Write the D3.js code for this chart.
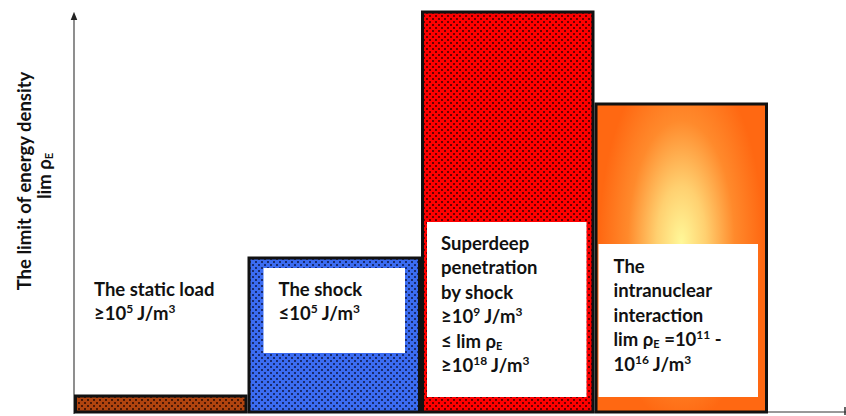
<!DOCTYPE html>
<html>
<head>
<meta charset="utf-8">
<script src="https://cdn.jsdelivr.net/npm/d3@7"></script>
<style>
  body { margin: 0; background: #fff; }
  text { font-family: Lato, "Open Sans", sans-serif; font-weight: bold; fill: #111; }
</style>
</head>
<body>
<svg></svg>
<script>
// data
var categories = ["static", "shock", "superdeep", "intranuclear"];
var values = [4, 38.5, 100, 77];   // relative height of the energy density limit
var fills = ["url(#dotBrown)", "url(#dotBlue)", "url(#dotRed)", "url(#glow)"];
var labelLines = [
  [["The static load"], ["≥10", "5", " J/m", "3"]],
  [["The shock"], ["≤10", "5", " J/m", "3"]],
  [["Superdeep"], ["penetration"], ["by shock"], ["≥10", "9", " J/m", "3"], ["≤ lim ρ", "_E"], ["≥10", "18", " J/m", "3"]],
  [["The"], ["intranuclear"], ["interaction"], ["lim ρ", "_E", " =10", "11", "  -"], ["10", "16", " J/m", "3"]]
];

var svg = d3.select("svg")
            .attr("width", 846)
            .attr("height", 416);

var margins = {left: 74, right: 78, top: 12, bottom: 4};
var width = 846 - margins.left - margins.right;
var height = 416 - margins.top - margins.bottom;

var xScale = d3.scaleBand()
               .domain(categories)
               .range([margins.left, margins.left + width])
               .padding(0);

var yScale = d3.scaleLinear()
               .domain([0, 100])
               .range([margins.top + height, margins.top]);

var defs = svg.append("defs");

var makeDots = function(id, bg, dot)
{
  var p = defs.append("pattern")
              .attr("id", id)
              .attr("width", 6)
              .attr("height", 6)
              .attr("patternUnits", "userSpaceOnUse");
  p.append("rect").attr("width", 6).attr("height", 6).attr("fill", bg);
  p.append("rect").attr("x", 0).attr("y", 0).attr("width", 2).attr("height", 2).attr("fill", dot);
  p.append("rect").attr("x", 3).attr("y", 3).attr("width", 2).attr("height", 2).attr("fill", dot);
}
makeDots("dotBrown", "#b0440f", "#4a1805");
makeDots("dotBlue", "#3b6cf2", "#1a2c6e");
makeDots("dotRed", "#ff0000", "#6a0000");

var glow = defs.append("radialGradient")
               .attr("id", "glow")
               .attr("cx", 0.5).attr("cy", 0.44)
               .attr("r", 0.6)
               .attr("fx", 0.5).attr("fy", 0.45)
               .attr("gradientTransform", "translate(0.5,0.44) scale(0.8,1) translate(-0.5,-0.44)");
glow.append("stop").attr("offset", "0%").attr("stop-color", "#fff899");
glow.append("stop").attr("offset", "30%").attr("stop-color", "#ffd070");
glow.append("stop").attr("offset", "65%").attr("stop-color", "#ff8a2c");
glow.append("stop").attr("offset", "100%").attr("stop-color", "#ff6812");

// axes
defs.append("marker")
    .attr("id", "arrow")
    .attr("viewBox", "0 0 10 10")
    .attr("refX", 5).attr("refY", 5)
    .attr("markerWidth", 7).attr("markerHeight", 7)
    .attr("orient", "auto")
    .append("path")
    .attr("d", "M0,1 L10,5 L0,9 Z")
    .attr("fill", "#222");

svg.append("line")
   .attr("x1", margins.left).attr("y1", yScale(0))
   .attr("x2", 846).attr("y2", yScale(0))
   .attr("stroke", "#333").attr("stroke-width", 1);

svg.append("line")
   .attr("x1", 845).attr("y1", yScale(0) - 5)
   .attr("x2", 845).attr("y2", yScale(0) + 3)
   .attr("stroke", "#333").attr("stroke-width", 1.5);

svg.append("line")
   .attr("x1", margins.left).attr("y1", 414)
   .attr("x2", margins.left).attr("y2", 16)
   .attr("stroke", "#444").attr("stroke-width", 1.2)
   .attr("marker-end", "url(#arrow)");

// bars
svg.selectAll("rect.bar")
   .data(values)
   .enter()
   .append("rect")
   .attr("class", "bar")
   .attr("x", function(d,i) { return xScale(categories[i]) + 1.5; })
   .attr("y", function(d) { return yScale(d); })
   .attr("width", xScale.bandwidth() - 3)
   .attr("height", function(d) { return yScale(0) - yScale(d); })
   .attr("fill", function(d,i) { return fills[i]; })
   .attr("stroke", "#111")
   .attr("stroke-width", 3);

// white label boxes
var boxes = [null, {l: 16, r: 16, t: 268, b: 353}, {l: 6, r: 8, t: 222, b: 397}, {l: 4, r: 10, t: 244, b: 397}];
boxes.forEach(function(b, i)
{
  if (!b) return;
  var x0 = xScale(categories[i]);
  svg.append("rect")
     .attr("x", x0 + b.l)
     .attr("y", b.t)
     .attr("width", xScale.bandwidth() - b.l - b.r)
     .attr("height", b.b - b.t)
     .attr("fill", "#fff");
});

// labels
var labelPos = [{dx: 20, y: 296}, {dx: 31, y: 296}, {dx: 20, y: 250}, {dx: 19, y: 273}];
labelLines.forEach(function(lines, i)
{
  var x0 = xScale(categories[i]) + labelPos[i].dx;
  lines.forEach(function(parts, j)
  {
    var line = svg.append("text")
                  .attr("x", x0)
                  .attr("y", labelPos[i].y + j * 24.4)
                  .attr("font-size", 18.5);
    parts.forEach(function(p, k)
    {
      if (k % 2 == 0) {
        line.append("tspan").text(p);
      } else if (p[0] == "_") {
        line.append("tspan").text(p.slice(1)).attr("font-size", 11).attr("baseline-shift", -2);
      } else {
        line.append("tspan").text(p).attr("font-size", 12).attr("baseline-shift", 7);
      }
    });
  });
});

// y axis title
svg.append("text")
   .attr("transform", "translate(31,181) rotate(-90)")
   .attr("text-anchor", "middle")
   .attr("font-size", 18.5)
   .text("The limit of energy density");
var yt2 = svg.append("text")
             .attr("transform", "translate(51,176) rotate(-90)")
             .attr("text-anchor", "middle")
             .attr("font-size", 18.5);
yt2.append("tspan").text("lim ρ");
yt2.append("tspan").text("E").attr("font-size", 11).attr("baseline-shift", -2);
</script>
</body>
</html>
